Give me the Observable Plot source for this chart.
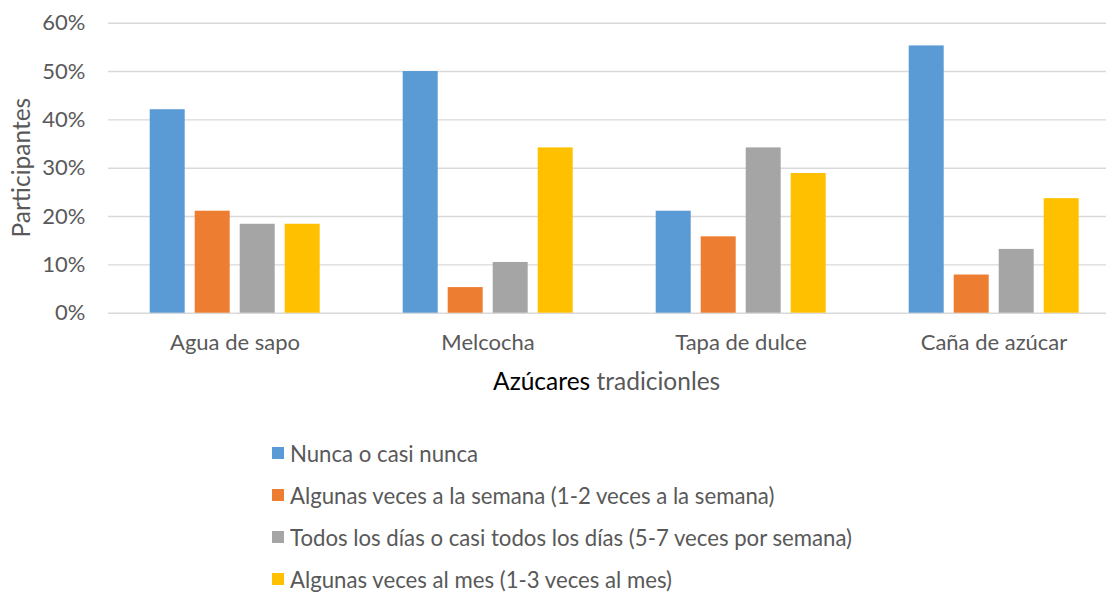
<!DOCTYPE html>
<html>
<head>
<meta charset="utf-8">
<script src="https://cdn.jsdelivr.net/npm/d3@7"></script>
<script src="https://cdn.jsdelivr.net/npm/@observablehq/plot@0.6"></script>
<style>
  html, body { margin: 0; padding: 0; background: #fff; overflow: hidden; }
  #wrap { position: relative; width: 1106px; height: 600px; font-family: Lato, sans-serif; }
  #legend { position: absolute; left: 272px; top: 432px; }
  .row { display: flex; align-items: center; height: 42px; font-size: 22.2px; color: #595959; white-space: nowrap; }
  .sw { width: 12px; height: 12px; margin-right: 6px; flex: none; }
</style>
</head>
<body>
<div id="wrap"></div>
<script>
const categories = ["Agua de sapo", "Melcocha", "Tapa de dulce", "Caña de azúcar"];
const series = [
  "Nunca o casi nunca",
  "Algunas veces a la semana (1-2 veces a la semana)",
  "Todos los días o casi todos los días (5-7 veces por semana)",
  "Algunas veces al mes (1-3 veces al mes)"
];
const nunca   = [0.421, 0.500, 0.211, 0.553];
const semana  = [0.211, 0.053, 0.158, 0.079];
const diario  = [0.184, 0.105, 0.342, 0.132];
const mes     = [0.184, 0.342, 0.289, 0.237];
const colors  = ["#5B9BD5", "#ED7D31", "#A5A5A5", "#FFC000"];
const yTicks  = [0, 0.1, 0.2, 0.3, 0.4, 0.5, 0.6];

const valuesBySeries = [nunca, semana, diario, mes];
const data = [];
categories.forEach((c, i) => {
  series.forEach((s, j) => data.push({cat: c, serie: s, value: valuesBySeries[j][i]}));
});

const W = 1106, H = 410, ML = 107.3, MT = 22.7, MB = 97.3;
const step = (W - ML + 14.7);

const chart = Plot.plot({
  width: W, height: H,
  marginLeft: ML, marginRight: 0, marginTop: MT, marginBottom: MB,
  style: {fontFamily: "Lato, sans-serif", fontSize: "22px", color: "#595959", background: "white", overflow: "hidden"},
  fx: {domain: categories, range: [ML, ML + step], padding: 0, label: null, tickSize: 0, tickPadding: 21},
  x: {domain: series, paddingInner: 0.217, paddingOuter: 0.862, axis: null},
  y: {domain: [0, 0.6], ticks: yTicks, tickSize: 0, tickPadding: 23, label: null,
      tickFormat: d => Math.round(d * 100) + "%"},
  color: {domain: series, range: colors},
  marks: [
    Plot.ruleY(yTicks, {stroke: "#d9d9d9", strokeWidth: 1.4}),
    Plot.barY(data, {fx: "cat", x: "serie", y: "value", fill: "serie"})
  ]
});

const wrap = document.getElementById("wrap");
wrap.appendChild(chart);

const svg = d3.select(chart);
// y axis title
svg.append("text")
  .attr("transform", `translate(30,${(MT + (H - MB)) / 2}) rotate(-90)`)
  .attr("text-anchor", "middle")
  .attr("fill", "#595959")
  .style("font-size", "24.5px")
  .text("Participantes");
// x axis title
const xt = svg.append("text")
  .attr("x", (ML + W) / 2)
  .attr("y", 390)
  .attr("text-anchor", "middle")
  .style("font-size", "24.5px");
xt.append("tspan").attr("fill", "#000").text("Azúcares ");
xt.append("tspan").attr("fill", "#595959").text("tradicionles");

// legend
const legend = d3.select(wrap).append("div").attr("id", "legend");
series.forEach((s, j) => {
  const row = legend.append("div").attr("class", "row");
  row.append("div").attr("class", "sw").style("background", colors[j]);
  row.append("span").text(s);
});
</script>
</body>
</html>
